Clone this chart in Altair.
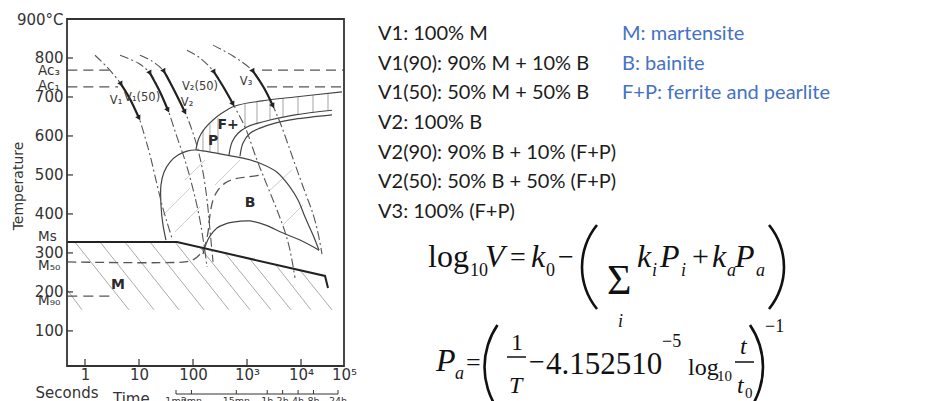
import altair as alt
import pandas as pd

# ------------------------------------------------------------------ data
# CCT diagram: time in seconds (log axis), temperature in °C
T_LO, T_HI = 10, 900
t_lo, t_hi = 10 ** (-1 / 3), 10 ** 4.796

# cooling curves (time s, temperature °C); arrowheads sit on points 2 and 4
v1_time = [1.53, 2.67, 4.64, 6.8, 10.0, 12.9, 16.0, 20.6, 26.7, 33.0, 40.8]
v1_temp = [807, 774, 733, 695, 646, 597, 551, 487, 423, 379, 338]
v1_50_time = [4.45, 9.6, 16.0, 24.5, 34.4, 50.6, 71, 95.8, 129, 160, 182]
v1_50_temp = [807, 787, 761, 713, 666, 597, 538, 474, 397, 320, 264]
v2_time = [10.4, 17.4, 29, 44.5, 71, 95.8, 124, 153, 182, 206, 235]
v2_temp = [807, 792, 766, 718, 661, 615, 564, 507, 436, 359, 277]
v2_50_time = [77.4, 135, 245, 375, 550, 918, 1531, 2345, 3593, 5054, 6250, 7740]
v2_50_temp = [820, 800, 764, 723, 682, 623, 538, 474, 410, 354, 307, 236]
v3_time = [235, 550, 1292, 2065, 3030, 4266, 6250, 8434, 11870, 16680, 20650, 24480]
v3_temp = [833, 805, 766, 723, 677, 628, 564, 513, 456, 400, 351, 297]

# transformation boundaries
bainite_start_time = [31.6, 27.8, 25.5, 25.5, 29, 37.5, 52.7, 77.4, 109, 167, 316, 843,
                      1741, 3593, 6250, 8800, 11870, 16680, 21540]
bainite_start_temp = [333, 372, 423, 474, 507, 533, 551, 561, 564, 561, 554, 543,
                      530, 507, 469, 436, 392, 346, 307]
bainite_end_time = [153, 174, 206, 278, 391, 550, 1137, 2154, 4642, 9580, 21540]
bainite_end_temp = [297, 323, 343, 364, 374, 379, 382, 372, 351, 333, 307]
m50_b50_time = [0.47, 71, 100, 135, 167, 190, 206, 235, 290, 391, 600, 1045, 1897]
m50_b50_temp = [277, 277, 282, 297, 320, 354, 397, 436, 461, 479, 490, 495, 500]
ferrite_start_time = [113, 129, 167, 235, 344, 600, 1897, 7740, 57440]
ferrite_start_temp = [564, 595, 620, 641, 659, 677, 690, 700, 713]
fp_mid_time = [464, 527, 681, 1000, 1600, 2667, 7740, 37500]
fp_mid_temp = [551, 584, 607, 623, 633, 641, 654, 666]
fp_end_time = [741, 843, 1137, 1741, 3300, 7740, 37500]
fp_end_temp = [548, 582, 607, 620, 633, 643, 654]
ms_time = [0.465, 50.6, 27830, 31620]
ms_temp = [328, 328, 241, 210]

# critical temperatures drawn as dashed levels (left and right pieces)
crit_temp = [769, 769, 726, 726, 189]
crit_from = [0.47, 1897, 0.47, 2345, 0.47]
crit_to = [2.9, t_hi, 4.1, t_hi, 3.6]

# hatching strokes: (time, temp) -> (time, temp)
hatch_m_t0 = [0.47, 0.65, 1.9, 5.5, 16, 46.4, 135, 391, 1137, 3300, 9580]
hatch_m_T0 = [205, 328, 328, 328, 328, 328, 314, 300, 284, 272, 256]
hatch_m_t1 = [0.88, 6.53, 19.0, 55.1, 160, 464, 1137, 2780, 6530, 15300, 37500]
hatch_m_T1 = [154, 154, 154, 154, 154, 154, 154, 154, 154, 154, 154]
hatch_fp_t = [153, 206, 290, 918, 1531, 2667, 4642, 8800, 16680, 31620]
hatch_fp_T0 = [615, 630, 646, 682, 687, 692, 697, 700, 705, 710]
hatch_fp_T1 = [561, 559, 556, 618, 630, 641, 648, 654, 659, 664]
hatch_b_t0 = [27.8, 46.4, 71, 255, 2667, 4642]
hatch_b_T0 = [397, 354, 487, 474, 461, 372]
hatch_b_t1 = [88, 135, 167, 741, 6813, 10900]
hatch_b_T1 = [466, 418, 538, 538, 513, 423]

# labels inside the diagram
curve_names = ["V₁", "V₁(50)", "V₂", "V₂(50)", "V₃"]
curve_label_time = [3.75, 11.4, 77.4, 135, 958]
curve_label_temp = [689, 697, 684, 725, 738]
region_names = ["P", "F+", "B", "M"]
region_time = [235, 445, 1137, 4.1]
region_temp = [587, 628, 428, 218]

# axis ticks and the extra temperature labels
temp_ticks = [100, 200, 300, 400, 500, 600, 700, 800]
time_ticks = [1, 10, 100, 1000, 10000]
level_names = ["Ac₃", "Ac₁", "Ms", "M₅₀", "M₉₀"]
level_temp = [767, 728, 342, 266, 177]

# clock-time bar under the axis (seconds)
clock_time = [60, 120, 900, 3600, 7200, 14400, 28800, 86400]
clock_names = ["1mn", "2mn", "15mn", "1h", "2h", "4h", "8h", "24h"]

# text panel
recipe_lines = ["V1: 100% M", "V1(90): 90% M + 10% B", "V1(50): 50% M + 50% B",
                "V2: 100% B", "V2(90): 90% B + 10% (F+P)", "V2(50): 50% B + 50% (F+P)",
                "V3: 100% (F+P)"]
phase_lines = ["M: martensite", "B: bainite", "F+P: ferrite and pearlite"]

# ------------------------------------------------------------------ scales
x_scale = alt.Scale(type="log", domain=[t_lo, t_hi], range=[67, 344], nice=False)
y_scale = alt.Scale(domain=[T_LO, T_HI], range=[366, 19], nice=False, zero=False)
clock_scale = alt.Scale(type="log", domain=[60, 86400], range=[176, 338], nice=False)

INK = "#333333"
DIAG_FONT = "DejaVu Sans"


def tx(field="t"):
    return alt.X(f"{field}:Q", scale=x_scale, axis=None)


def ty(field="T"):
    return alt.Y(f"{field}:Q", scale=y_scale, axis=None)


def px(field):
    return alt.X(f"{field}:Q", scale=None, axis=None)


def py(field):
    return alt.Y(f"{field}:Q", scale=None, axis=None)


def curves(named):
    frames = []
    for name, (times, temps) in named.items():
        frames.append(pd.DataFrame({"name": name, "i": range(len(times)),
                                    "t": times, "T": temps}))
    return pd.concat(frames, ignore_index=True)


cooling = curves({
    "V1": (v1_time, v1_temp), "V1(50)": (v1_50_time, v1_50_temp),
    "V2": (v2_time, v2_temp), "V2(50)": (v2_50_time, v2_50_temp),
    "V3": (v3_time, v3_temp),
})
solid_bounds = curves({
    "bs": (bainite_start_time, bainite_start_temp),
    "bf": (bainite_end_time, bainite_end_temp),
    "fs": (ferrite_start_time, ferrite_start_temp),
    "fm": (fp_mid_time, fp_mid_temp),
    "fe": (fp_end_time, fp_end_temp),
})
dashed_bounds = curves({"m50": (m50_b50_time, m50_b50_temp)})
ms_df = curves({"ms": (ms_time, ms_temp)})

# ------------------------------------------------------------------ diagram
frame = alt.Chart(pd.DataFrame({"t": [t_lo], "t2": [t_hi], "T": [T_LO], "T2": [T_HI]})).mark_rect(
    fill="transparent", stroke=INK, strokeWidth=1.8
).encode(
    x=alt.X("t:Q", scale=x_scale, axis=alt.Axis(
        values=[1, 10, 100, 1000, 10000, t_hi], orient="bottom", offset=-35,
        ticks=False, domain=False, grid=False, title=None, labelPadding=1,
        labelOverlap=False, labelFlush=False, labelBound=False,
        labelFont=DIAG_FONT, labelFontSize=15, labelColor=INK,
        labelExpr="datum.value > 50000 ? '10⁵' : datum.value > 5000 ? '10⁴' : "
                  "datum.value > 500 ? '10³' : datum.value > 50 ? '100' : "
                  "datum.value > 5 ? '10' : '1'")),
    x2="t2:Q",
    y=alt.Y("T:Q", scale=y_scale, axis=alt.Axis(
        values=temp_ticks + [900], orient="left", offset=-67,
        ticks=False, domain=False, grid=False, title=None, labelPadding=4,
        labelOverlap=False, labelFlush=False, labelBound=False,
        labelFont=DIAG_FONT, labelFontSize=15, labelColor=INK,
        labelExpr="datum.value == 900 ? '900°C' : datum.label")),
    y2="T2:Q",
)

x_tick_marks = alt.Chart(pd.DataFrame({"t": time_ticks})).mark_rule(
    color=INK, strokeWidth=1.2).encode(x=tx(), y=alt.value(366), y2=alt.value(359))
y_tick_marks = alt.Chart(pd.DataFrame({"T": temp_ticks})).mark_rule(
    color=INK, strokeWidth=1.2).encode(y=ty(), x=alt.value(67), x2=alt.value(73))

hatch_m = alt.Chart(pd.DataFrame({"t": hatch_m_t0, "T": hatch_m_T0,
                                  "t2": hatch_m_t1, "T2": hatch_m_T1})).mark_rule(
    color="#a0a0a0", strokeWidth=0.9).encode(x=tx(), y=ty(), x2="t2:Q", y2="T2:Q")
hatch_fp = alt.Chart(pd.DataFrame({"t": hatch_fp_t, "T": hatch_fp_T0, "T2": hatch_fp_T1})).mark_rule(
    color="#9a9a9a", strokeWidth=0.9).encode(x=tx(), y=ty(), y2="T2:Q")
hatch_b = alt.Chart(pd.DataFrame({"t": hatch_b_t0, "T": hatch_b_T0,
                                  "t2": hatch_b_t1, "T2": hatch_b_T1})).mark_rule(
    color="#c6c6c6", strokeWidth=0.9).encode(x=tx(), y=ty(), x2="t2:Q", y2="T2:Q")

crit = alt.Chart(pd.DataFrame({"t": crit_from, "t2": crit_to, "T": crit_temp})).mark_rule(
    color="#555555", strokeWidth=1.2, strokeDash=[10, 6]).encode(x=tx(), x2="t2:Q", y=ty())

cool_lines = alt.Chart(cooling).mark_line(
    color="#555555", strokeWidth=1.1, strokeDash=[9, 3, 2, 3], interpolate="catmull-rom"
).encode(x=tx(), y=ty(), detail="name:N", order="i:Q")
cool_solid = alt.Chart(cooling[(cooling["i"] >= 2) & (cooling["i"] <= 4)]).mark_line(
    color="#222222", strokeWidth=2.2, interpolate="catmull-rom"
).encode(x=tx(), y=ty(), detail="name:N", order="i:Q")
cool_arrows = alt.Chart(cooling[cooling["i"].isin([2, 4])]).mark_point(
    shape="triangle-down", filled=True, size=34, angle=332, color="#222222", opacity=1
).encode(x=tx(), y=ty())

bounds = alt.Chart(solid_bounds).mark_line(
    color="#444444", strokeWidth=1.2, interpolate="catmull-rom"
).encode(x=tx(), y=ty(), detail="name:N", order="i:Q")
bounds_dashed = alt.Chart(dashed_bounds).mark_line(
    color="#555555", strokeWidth=1.3, strokeDash=[9, 5], interpolate="catmull-rom"
).encode(x=tx(), y=ty(), detail="name:N", order="i:Q")
ms_line = alt.Chart(ms_df).mark_line(color="#222222", strokeWidth=2).encode(
    x=tx(), y=ty(), order="i:Q")

curve_text = alt.Chart(pd.DataFrame({"label": curve_names, "t": curve_label_time,
                                     "T": curve_label_temp})).mark_text(
    font=DIAG_FONT, fontSize=11.5, color="#3a3a3a").encode(x=tx(), y=ty(), text="label:N")
region_text = alt.Chart(pd.DataFrame({"label": region_names, "t": region_time,
                                      "T": region_temp})).mark_text(
    font=DIAG_FONT, fontSize=14, fontWeight="bold", color="#2a2a2a").encode(
    x=tx(), y=ty(), text="label:N")
level_text = alt.Chart(pd.DataFrame({"label": level_names, "T": level_temp})).mark_text(
    font=DIAG_FONT, fontSize=13.5, color=INK, align="left").encode(
    x=alt.value(38), y=ty(), text="label:N")

temp_title = alt.Chart(pd.DataFrame({"label": ["Temperature"]})).mark_text(
    font=DIAG_FONT, fontSize=14, color=INK, angle=270).encode(
    x=alt.value(19), y=alt.value(186), text="label:N")
seconds_title = alt.Chart(pd.DataFrame({"label": ["Seconds"]})).mark_text(
    font=DIAG_FONT, fontSize=15, color=INK, baseline="alphabetic").encode(
    x=alt.value(67), y=alt.value(398), text="label:N")
time_title = alt.Chart(pd.DataFrame({"label": ["Time"]})).mark_text(
    font=DIAG_FONT, fontSize=15, color=INK, baseline="alphabetic", align="left").encode(
    x=alt.value(113), y=alt.value(404), text="label:N")
clock_bar = alt.Chart(pd.DataFrame({"t": [clock_time[0]], "t2": [clock_time[-1]]})).mark_rule(
    color=INK, strokeWidth=1).encode(
    x=alt.X("t:Q", scale=clock_scale, axis=None), x2="t2:Q", y=alt.value(394))
clock_ticks = alt.Chart(pd.DataFrame({"t": clock_time})).mark_rule(
    color=INK, strokeWidth=1).encode(
    x=alt.X("t:Q", scale=clock_scale, axis=None), y=alt.value(390), y2=alt.value(394))
clock_text = alt.Chart(pd.DataFrame({"label": clock_names, "t": clock_time})).mark_text(
    font=DIAG_FONT, fontSize=9.5, color=INK, baseline="alphabetic").encode(
    x=alt.X("t:Q", scale=clock_scale, axis=None), y=alt.value(404), text="label:N")

# ------------------------------------------------------------------ text panel
row_scale = alt.Scale(domain=[0, 6], range=[40, 218])
recipes = alt.Chart(pd.DataFrame({"line": recipe_lines, "row": range(len(recipe_lines))})).mark_text(
    font="Lato", fontSize=20, color="#1c1c1c", align="left", baseline="alphabetic").encode(
    x=alt.value(378), y=alt.Y("row:Q", scale=row_scale, axis=None), text="line:N")
phases = alt.Chart(pd.DataFrame({"line": phase_lines, "row": range(len(phase_lines))})).mark_text(
    font="Lato", fontSize=20, color="#4472c4", align="left", baseline="alphabetic").encode(
    x=alt.value(622), y=alt.Y("row:Q", scale=row_scale, axis=None), text="line:N")

# equations: glyph runs placed on the page (x left edge, y baseline, font size)
eq_upright = pd.DataFrame([
    ("log", 428, 267, 32), ("10", 470, 276, 18), ("=", 510, 266, 28), ("0", 546, 276, 18),
    ("−", 558, 266, 28), ("Σ", 607, 294, 42), ("+", 692, 266, 30),
    ("=", 466, 371, 26), ("1", 511, 350, 24), ("−", 529, 371, 28), ("4.152510", 546, 374, 31),
    ("−5", 662, 347, 18), ("log", 688, 375, 24), ("10", 717, 381, 15), ("0", 745, 398, 15),
    ("−1", 765, 332, 18),
], columns=["s", "x", "y", "size"])
eq_italic = pd.DataFrame([
    ("V", 485, 267, 32), ("k", 531, 267, 32), ("i", 618, 327, 18), ("k", 637, 267, 32),
    ("i", 652, 276, 18), ("P", 660, 267, 32), ("i", 681, 276, 18), ("k", 712, 267, 32),
    ("a", 727, 276, 18), ("P", 735, 267, 32), ("a", 756, 276, 18),
    ("P", 436, 371, 32), ("a", 455, 379, 18), ("T", 509, 393, 24), ("t", 740, 354, 24),
    ("t", 737, 393, 24),
], columns=["s", "x", "y", "size"])
eq_bars = pd.DataFrame({"x": [507, 735], "x2": [526, 754], "y": [357, 362]})
eq_parens = pd.DataFrame({
    "cx": [648.3, 717.7, 558.8, 688.7],
    "cy": [267, 267, 367, 367],
    "a0": [4.026, 0.885, 4.112, 0.970],
    "a1": [5.398, 2.257, 5.313, 2.171],
    "r": [66.3, 66.3, 74.3, 74.3],
})
eq_parens["ro"] = eq_parens["r"] + 1.3
eq_parens["ri"] = eq_parens["r"] - 1.3

EQ_FONT = "Liberation Serif"
eq_up = alt.Chart(eq_upright).mark_text(
    font=EQ_FONT, color="#111111", align="left", baseline="alphabetic").encode(
    x=px("x"), y=py("y"), size=alt.Size("size:Q", scale=None), text="s:N")
eq_it = alt.Chart(eq_italic).mark_text(
    font=EQ_FONT, fontStyle="italic", color="#111111", align="left", baseline="alphabetic").encode(
    x=px("x"), y=py("y"), size=alt.Size("size:Q", scale=None), text="s:N")
eq_frac = alt.Chart(eq_bars).mark_rule(color="#111111", strokeWidth=1.5).encode(
    x=px("x"), x2="x2:Q", y=py("y"))
eq_par = alt.Chart(eq_parens).mark_arc(color="#111111").encode(
    x=px("cx"), y=py("cy"),
    theta=alt.Theta("a0:Q", scale=None, stack=None), theta2="a1:Q",
    radius=alt.Radius("ro:Q", scale=None), radius2="ri:Q")

chart = alt.layer(
    hatch_m, hatch_fp, hatch_b, crit, bounds, bounds_dashed, ms_line,
    cool_lines, cool_solid, cool_arrows, frame, x_tick_marks, y_tick_marks,
    curve_text, region_text, level_text, temp_title, seconds_title, time_title,
    clock_bar, clock_ticks, clock_text,
    recipes, phases, eq_up, eq_it, eq_frac, eq_par,
).resolve_scale(
    x="independent", y="independent"
).properties(
    width=935, height=401, autosize="none", padding=0, background="white"
).configure_view(stroke=None)

chart.save("out.html", embed_options={"renderer": "svg", "actions": False})
